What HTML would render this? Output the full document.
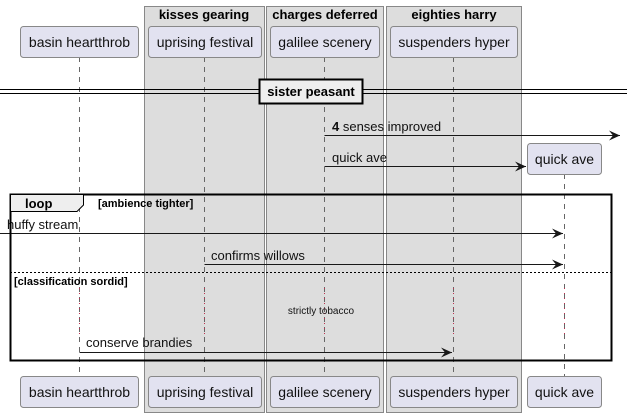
<!DOCTYPE html>
<html><head><meta charset="utf-8"><style>
html,body{margin:0;padding:0;background:#fff;}
svg{display:block;font-family:"Liberation Sans",sans-serif;}
</style></head><body>
<svg width="627" height="417" viewBox="0 0 627 417" xmlns="http://www.w3.org/2000/svg">
<defs>
<marker id="ah" markerWidth="12" markerHeight="10" refX="11" refY="5" orient="auto" markerUnits="userSpaceOnUse">
<path d="M0,0 L11,5 L0,10 L4,5 Z" fill="#181818"/>
</marker>
</defs>
<!-- group boxes -->
<rect x="144.5" y="6.5" width="120" height="406" fill="#dddddd" stroke="#888" stroke-width="1"/>
<rect x="266.5" y="6.5" width="117" height="406" fill="#dddddd" stroke="#888" stroke-width="1"/>
<rect x="386.5" y="6.5" width="135" height="406" fill="#dddddd" stroke="#888" stroke-width="1"/>
<g font-weight="bold" font-size="13" text-anchor="middle" fill="#000">
<text x="204" y="19">kisses gearing</text>
<text x="325" y="19">charges deferred</text>
<text x="454" y="19">eighties harry</text>
</g>
<!-- lifelines -->
<g stroke="#666" stroke-width="1" stroke-dasharray="5,5">
<line x1="79.5" y1="57" x2="79.5" y2="377"/>
<line x1="204.5" y1="57" x2="204.5" y2="377"/>
<line x1="324.5" y1="57" x2="324.5" y2="377"/>
<line x1="453.5" y1="57" x2="453.5" y2="377"/>
<line x1="564.5" y1="174" x2="564.5" y2="377"/>
</g>
<!-- participants -->
<g fill="#e2e2f0" stroke="#888" stroke-width="1">
<rect x="20.5" y="26.5" width="118" height="31" rx="3"/>
<rect x="148.5" y="26.5" width="113" height="31" rx="3"/>
<rect x="270.5" y="26.5" width="109" height="31" rx="3"/>
<rect x="390.5" y="26.5" width="127" height="31" rx="3"/>
<rect x="527.5" y="143.5" width="74" height="31" rx="3"/>
<rect x="20.5" y="376.5" width="118" height="31" rx="3"/>
<rect x="148.5" y="376.5" width="113" height="31" rx="3"/>
<rect x="270.5" y="376.5" width="109" height="31" rx="3"/>
<rect x="390.5" y="376.5" width="127" height="31" rx="3"/>
<rect x="527.5" y="376.5" width="74" height="31" rx="3"/>
</g>
<g font-size="14" text-anchor="middle" fill="#111">
<text x="79.5" y="47">basin heartthrob</text>
<text x="205" y="47">uprising festival</text>
<text x="325" y="47">galilee scenery</text>
<text x="454" y="47">suspenders hyper</text>
<text x="564.5" y="164">quick ave</text>
<text x="79.5" y="397">basin heartthrob</text>
<text x="205" y="397">uprising festival</text>
<text x="325" y="397">galilee scenery</text>
<text x="454" y="397">suspenders hyper</text>
<text x="564.5" y="397">quick ave</text>
</g>
<!-- divider -->
<line x1="0" y1="89.5" x2="627" y2="89.5" stroke="#000" stroke-width="1"/>
<line x1="0" y1="93.5" x2="627" y2="93.5" stroke="#000" stroke-width="1"/>
<rect x="259.5" y="79.5" width="103" height="24" fill="#eeeeee" stroke="#000" stroke-width="2"/>
<text x="311" y="96" font-size="13" font-weight="bold" text-anchor="middle">sister peasant</text>
<!-- messages -->
<g stroke="#181818" stroke-width="1" fill="none" marker-end="url(#ah)">
<line x1="324.5" y1="135.5" x2="620" y2="135.5"/>
<line x1="324.5" y1="166.5" x2="526" y2="166.5"/>
<line x1="0" y1="233.5" x2="563" y2="233.5"/>
<line x1="204.5" y1="264.5" x2="563" y2="264.5"/>
<line x1="79.5" y1="352.5" x2="452" y2="352.5"/>
</g>
<g font-size="13" fill="#111">
<text x="332" y="131"><tspan font-weight="bold">4</tspan> senses improved</text>
<text x="332" y="162">quick ave</text>
<text x="7" y="229">huffy stream</text>
<text x="211" y="260">confirms willows</text>
<text x="86" y="347">conserve brandies</text>
</g>
<!-- loop frame -->
<rect x="10.5" y="194.5" width="601" height="166" fill="none" stroke="#000" stroke-width="2"/>
<path d="M10.5,194.5 L83.5,194.5 L83.5,205 L77,211.5 L10.5,211.5 Z" fill="#eeeeee" stroke="#000" stroke-width="1"/>
<text x="25" y="208" font-size="13" font-weight="bold">loop</text>
<text x="98" y="207" font-size="11" font-weight="bold">[ambience tighter]</text>
<line x1="10" y1="272.5" x2="612" y2="272.5" stroke="#000" stroke-width="1" stroke-dasharray="2,2"/>
<text x="14" y="285" font-size="11" font-weight="bold">[classification sordid]</text>
<!-- delay dotted segments -->
<g stroke="#c03050" stroke-width="1" stroke-dasharray="1,4">
<line x1="79.5" y1="288" x2="79.5" y2="335"/>
<line x1="204.5" y1="288" x2="204.5" y2="335"/>
<line x1="324.5" y1="288" x2="324.5" y2="335"/>
<line x1="453.5" y1="288" x2="453.5" y2="335"/>
<line x1="564.5" y1="288" x2="564.5" y2="335"/>
</g>
<text x="321" y="314" font-size="10" text-anchor="middle" fill="#111">strictly tobacco</text>
</svg>
</body></html>
